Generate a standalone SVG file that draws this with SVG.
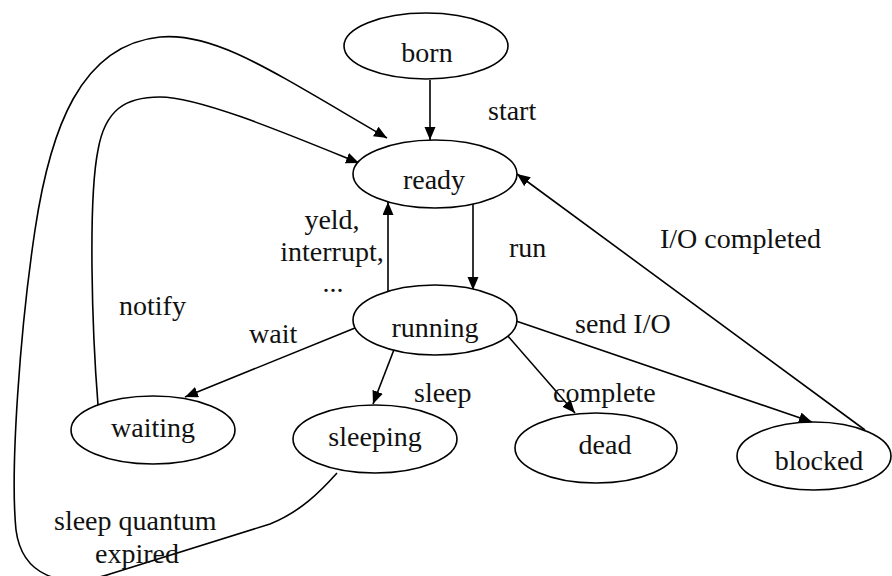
<svg xmlns="http://www.w3.org/2000/svg" width="892" height="576" viewBox="0 0 892 576">
  <style>
    .node ellipse { fill: #fff; stroke: #000; stroke-width: 1.6; }
    .txt { font-size: 28px; fill: #111; }
    .node text { text-anchor: middle; }
    .edge { fill: none; stroke: #000; stroke-width: 1.6; marker-end: url(#arrow); }
  </style>
  <defs>
    <marker id="arrow" markerUnits="userSpaceOnUse" markerWidth="14" markerHeight="12" refX="13" refY="5.5" orient="auto">
      <path d="M0,0 L13,5.5 L0,11 z" fill="#000"/>
    </marker>
  </defs>
  <rect width="892" height="576" fill="#fff"/>

  <g id="connectors">
    <!-- born -> ready -->
    <path class="edge" d="M430,80 L430,140"/>
    <!-- running -> ready -->
    <path class="edge" d="M388,291 L388,202"/>
    <!-- ready -> running -->
    <path class="edge" d="M473,204 L473,290"/>
    <!-- running -> waiting -->
    <path class="edge" d="M355,328 L185,397"/>
    <!-- running -> sleeping -->
    <path class="edge" d="M395,347 L373,404"/>
    <!-- running -> dead -->
    <path class="edge" d="M507,335 L575,413"/>
    <!-- running -> blocked -->
    <path class="edge" d="M516,321 L812,422"/>
    <!-- blocked -> ready -->
    <path class="edge" d="M865,430 L517,174"/>
    <!-- waiting -> ready (notify) -->
    <path class="edge" d="M98,405 C92,330 88,200 98,150 C105,110 125,97 160,97 C200,97 290,135 359,163"/>
    <!-- sleeping -> ready (sleep quantum expired) -->
    <path class="edge" d="M337,473 C320,492 300,512 270,524 L110,574 C60,590 22,575 16,530 C10,470 20,330 35,230 C50,130 80,45 160,37 C215,32 270,70 387,138"/>
  </g>

  <g class="txt" font-family="Liberation Serif, Times New Roman, DejaVu Serif, serif">
    <g id="born" class="node">
      <ellipse cx="426" cy="46" rx="82" ry="33"/>
      <text x="427" y="62">born</text>
    </g>
    <g id="ready" class="node">
      <ellipse cx="435" cy="174" rx="82" ry="34"/>
      <text x="434" y="189">ready</text>
    </g>
    <g id="running" class="node">
      <ellipse cx="435" cy="320" rx="82" ry="35"/>
      <text x="435" y="337">running</text>
    </g>
    <g id="waiting" class="node">
      <ellipse cx="153" cy="430" rx="82" ry="34"/>
      <text x="153" y="437">waiting</text>
    </g>
    <g id="sleeping" class="node">
      <ellipse cx="375" cy="439" rx="82" ry="34"/>
      <text x="375" y="446">sleeping</text>
    </g>
    <g id="dead" class="node">
      <ellipse cx="596" cy="448" rx="81" ry="35"/>
      <text x="605" y="454">dead</text>
    </g>
    <g id="blocked" class="node">
      <ellipse cx="814" cy="456" rx="77" ry="34"/>
      <text x="819" y="470">blocked</text>
    </g>

    <g id="labels">
      <text x="488" y="120">start</text>
      <text x="332" y="229" text-anchor="middle">yeld,</text>
      <text x="332" y="261" text-anchor="middle">interrupt,</text>
      <text x="333" y="292" text-anchor="middle">...</text>
      <text x="509" y="257">run</text>
      <text x="119" y="315">notify</text>
      <text x="249" y="343">wait</text>
      <text x="414" y="402">sleep</text>
      <text x="575" y="333">send I/O</text>
      <text x="553" y="402">complete</text>
      <text x="660" y="248">I/O completed</text>
      <text x="54" y="530">sleep quantum</text>
      <text x="95" y="563">expired</text>
    </g>
  </g>
</svg>
